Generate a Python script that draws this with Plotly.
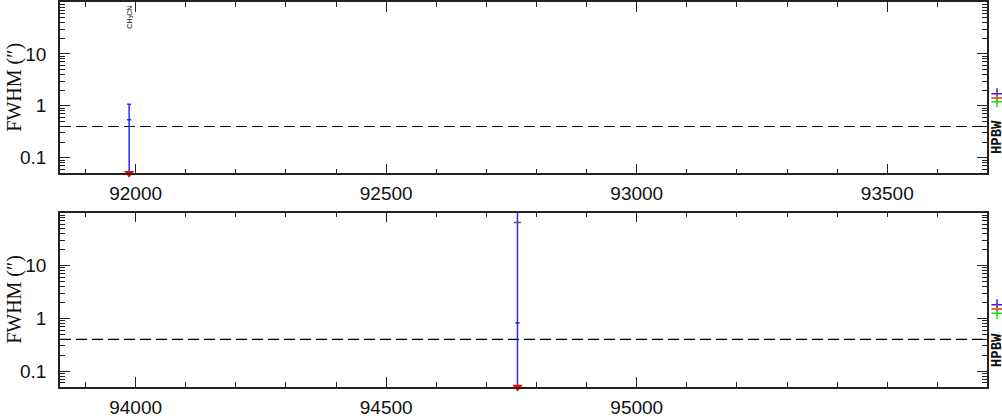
import math
import plotly.graph_objects as go

# ---------------- data ----------------
x_range_top = [91849, 93699]          # MHz, upper panel
x_range_bot = [93849, 95699]          # MHz, lower panel
y_range = [0.0501, 100.0]             # FWHM (arcsec), log axis

x_tickvals_top = [92000, 92500, 93000, 93500]
x_tickvals_bot = [94000, 94500, 95000]
y_tickvals = [0.1, 1, 10]
y_ticktext = ["0.1", "1", "10"]

top_freq = [91987.0]
top_fwhm = [0.54]
top_err_hi = [1.07]
top_err_lo = [0.01]
top_label = ["CH<sub>3</sub>CN"]

bot_freq = [94762.0]
bot_fwhm = [0.82]
bot_err_hi = [500.0]
bot_err_lo = [0.01]
bot_alt_fwhm = [65.0]

limit_fwhm = [0.0501]                 # upper-limit markers at axis floor
hpbw_level = 0.40                     # dashed line
hpbw_top = [1.71, 1.42, 1.20]
hpbw_bot = [1.80, 1.50, 1.25]
hpbw_colors = ["#2020ff", "#ff2020", "#20dd20"]

# ---------------- layout constants ----------------
W, H = 1002, 418
ML, MR, MT, MB = 60, 0, 1, 26
FRAME_W = 927                         # px width of the framed panels
plot_h = H - MT - MB
plot_w = W - ML - MR
main_dom = [0.0, FRAME_W / plot_w]
side_dom = [FRAME_W / plot_w, 1.0]
side_px = plot_w - FRAME_W            # side strip width in px (axis range = px)
dom_top = [1 - 174.0 / plot_h, 1.0]
dom_bot = [0.0, 177.0 / plot_h]
HPBW_X = 10                           # px into the side strip

AX_COLOR = "#222222"
TICK_FONT = dict(family="Liberation Sans, Arial, sans-serif", size=19, color="#111111")

fig = go.Figure()


def panel(freq, fwhm, err_hi, err_lo, xr, hpbw, xa, ya, xs):
    fig.add_trace(go.Scatter(x=xr, y=[hpbw_level, hpbw_level], mode="lines",
                             line=dict(color="black", width=1.2, dash="11px,5px"),
                             xaxis=xa, yaxis=ya, showlegend=False, hoverinfo="skip"))
    fig.add_trace(go.Scatter(x=freq, y=fwhm, mode="markers",
                             marker=dict(color="#2020ff", size=3, symbol="line-ew",
                                         line=dict(color="#2020ff", width=1.5)),
                             error_y=dict(type="data", symmetric=False,
                                          array=[h - v for h, v in zip(err_hi, fwhm)],
                                          arrayminus=[v - l for v, l in zip(fwhm, err_lo)],
                                          color="#2a2aff", thickness=1.5, width=2),
                             xaxis=xa, yaxis=ya, showlegend=False))
    fig.add_trace(go.Scatter(x=freq, y=limit_fwhm, mode="markers",
                             marker=dict(color="#ff0000", size=9, symbol="triangle-down",
                                         line=dict(width=0)),
                             cliponaxis=False, xaxis=xa, yaxis=ya, showlegend=False))
    for val, col in zip(hpbw, hpbw_colors):
        fig.add_trace(go.Scatter(x=[HPBW_X], y=[val], mode="markers",
                                 marker=dict(symbol="cross-thin", size=8,
                                             line=dict(color=col, width=1.5)),
                                 cliponaxis=False, xaxis=xs, yaxis=ya, showlegend=False))


panel(top_freq, top_fwhm, top_err_hi, top_err_lo, x_range_top, hpbw_top, "x", "y", "x3")
panel(bot_freq, bot_fwhm, bot_err_hi, bot_err_lo, x_range_bot, hpbw_bot, "x2", "y2", "x4")

fig.add_trace(go.Scatter(x=bot_freq, y=bot_alt_fwhm, mode="markers",
                         marker=dict(symbol="line-ew", size=5,
                                     line=dict(color="#555555", width=1.5)),
                         xaxis="x2", yaxis="y2", showlegend=False))

minor_y = [m * 10 ** e for e in range(-2, 3) for m in range(2, 10)]


def xaxis(xr, tv, anchor):
    return dict(range=xr, tickvals=tv, ticktext=[str(v) for v in tv],
                ticks="inside", ticklen=10, tickwidth=1.2, tickcolor=AX_COLOR,
                minor=dict(dtick=100, tick0=0, ticks="inside", ticklen=5,
                           tickcolor=AX_COLOR, tickwidth=1, showgrid=False),
                showline=True, linecolor=AX_COLOR, linewidth=1.5, mirror="ticks",
                showgrid=False, zeroline=False, tickfont=TICK_FONT,
                anchor=anchor, domain=main_dom, ticklabelstandoff=2)


def side_xaxis(anchor):
    return dict(range=[0, side_px], domain=side_dom, anchor=anchor, visible=False,
                fixedrange=True)


def yaxis(dom, anchor):
    return dict(type="log", range=[math.log10(y_range[0]), math.log10(y_range[1])],
                tickvals=y_tickvals, ticktext=y_ticktext,
                ticks="inside", ticklen=10, tickwidth=1.2, tickcolor=AX_COLOR,
                minor=dict(tickvals=minor_y, ticks="inside", ticklen=5,
                           tickcolor=AX_COLOR, tickwidth=1, showgrid=False),
                showline=True, linecolor=AX_COLOR, linewidth=1.5, mirror="ticks",
                showgrid=False, zeroline=False, tickfont=TICK_FONT,
                domain=dom, anchor=anchor, ticklabelstandoff=8)


fig.update_layout(
    width=W, height=H,
    margin=dict(l=ML, r=MR, t=MT, b=MB, pad=0),
    paper_bgcolor="white", plot_bgcolor="white",
    xaxis=xaxis(x_range_top, x_tickvals_top, "y"),
    yaxis=yaxis(dom_top, "x"),
    xaxis2=xaxis(x_range_bot, x_tickvals_bot, "y2"),
    yaxis2=yaxis(dom_bot, "x2"),
    xaxis3=side_xaxis("y"),
    xaxis4=side_xaxis("y2"),
)

annotations = []
for dom in (dom_top, dom_bot):
    annotations.append(dict(text="FWHM (″)", textangle=-90, showarrow=False,
                            xref="paper", yref="paper", x=0, y=(dom[0] + dom[1]) / 2,
                            xanchor="center", yanchor="middle", xshift=-45,
                            font=dict(family="Liberation Serif, serif", size=20, color="#111111")))
for xref, yref in (("x3", "y"), ("x4", "y2")):
    annotations.append(dict(text="<b>HPBW</b>", textangle=-90, showarrow=False,
                            xref=xref, yref=yref, x=HPBW_X, y=math.log10(0.25),
                            xanchor="center", yanchor="middle",
                            font=dict(family="Liberation Mono, monospace", size=14, color="#111111")))
for f, lab in zip(top_freq, top_label):
    annotations.append(dict(text=lab, textangle=-90, showarrow=False,
                            xref="x", yref="y domain", x=f, y=1,
                            xanchor="center", yanchor="top", yshift=-2,
                            font=dict(family="Liberation Sans, sans-serif", size=7, color="#111111")))
fig.update_layout(annotations=annotations)

fig.write_html("out.html", config={"displayModeBar": False},
               post_script="document.body.style.margin='0px';")
